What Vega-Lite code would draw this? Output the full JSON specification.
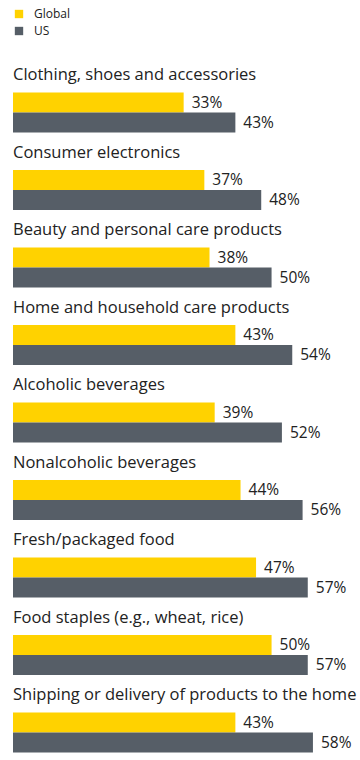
{
  "$schema": "https://vega.github.io/schema/vega-lite/v6.json",
  "width": 347,
  "height": 697.5,
  "autosize": {"type": "none"},
  "padding": {"left": 13, "top": 55, "right": 0, "bottom": 0},
  "background": "white",
  "config": {"view": {"stroke": null}, "font": "Open Sans"},
  "data": {"values": [
    {"cat": "Clothing, shoes and accessories", "series": "Global", "value": 0.33},
    {"cat": "Clothing, shoes and accessories", "series": "US", "value": 0.43},
    {"cat": "Consumer electronics", "series": "Global", "value": 0.37},
    {"cat": "Consumer electronics", "series": "US", "value": 0.48},
    {"cat": "Beauty and personal care products", "series": "Global", "value": 0.38},
    {"cat": "Beauty and personal care products", "series": "US", "value": 0.50},
    {"cat": "Home and household care products", "series": "Global", "value": 0.43},
    {"cat": "Home and household care products", "series": "US", "value": 0.54},
    {"cat": "Alcoholic beverages", "series": "Global", "value": 0.39},
    {"cat": "Alcoholic beverages", "series": "US", "value": 0.52},
    {"cat": "Nonalcoholic beverages", "series": "Global", "value": 0.44},
    {"cat": "Nonalcoholic beverages", "series": "US", "value": 0.56},
    {"cat": "Fresh/packaged food", "series": "Global", "value": 0.47},
    {"cat": "Fresh/packaged food", "series": "US", "value": 0.57},
    {"cat": "Food staples (e.g., wheat, rice)", "series": "Global", "value": 0.50},
    {"cat": "Food staples (e.g., wheat, rice)", "series": "US", "value": 0.57},
    {"cat": "Shipping or delivery of products to the home", "series": "Global", "value": 0.43},
    {"cat": "Shipping or delivery of products to the home", "series": "US", "value": 0.58}
  ]},
  "encoding": {
    "y": {"field": "cat", "type": "nominal", "sort": null, "axis": null,
          "scale": {"paddingInner": 0, "paddingOuter": 0}}
  },
  "layer": [
    {
      "mark": {"type": "bar"},
      "encoding": {
        "x": {"field": "value", "type": "quantitative", "axis": null, "scale": {"domain": [0, 0.671], "nice": false, "zero": true}},
        "yOffset": {"field": "series", "type": "nominal",
                    "scale": {"paddingInner": 0, "paddingOuter": 0.9375, "align": 1}},
        "color": {"field": "series", "type": "nominal",
                  "scale": {"domain": ["Global", "US"], "range": ["#FFD200", "#565E67"]},
                  "legend": {"title": null, "orient": "none", "legendX": 0, "legendY": -47,
                             "symbolType": "square", "symbolSize": 70, "labelFontSize": 12,
                             "labelColor": "#222", "rowPadding": 5, "labelOffset": 9, "symbolOpacity": 1, "symbolStrokeWidth": 0}}
      }
    },
    {
      "mark": {"type": "text", "align": "left", "baseline": "middle", "dx": 8, "fontSize": 15.5, "color": "#222"},
      "encoding": {
        "x": {"field": "value", "type": "quantitative"},
        "yOffset": {"field": "series", "type": "nominal"},
        "text": {"field": "value", "type": "quantitative", "format": ".0%"}
      }
    },
    {
      "transform": [{"filter": "datum.series === 'Global'"}],
      "mark": {"type": "text", "align": "left", "baseline": "middle", "dy": 20, "fontSize": 16.5, "color": "#222"},
      "encoding": {
        "x": {"datum": 0},
        "y": {"field": "cat", "type": "nominal", "sort": null, "bandPosition": 0},
        "text": {"field": "cat"}
      }
    }
  ]
}
